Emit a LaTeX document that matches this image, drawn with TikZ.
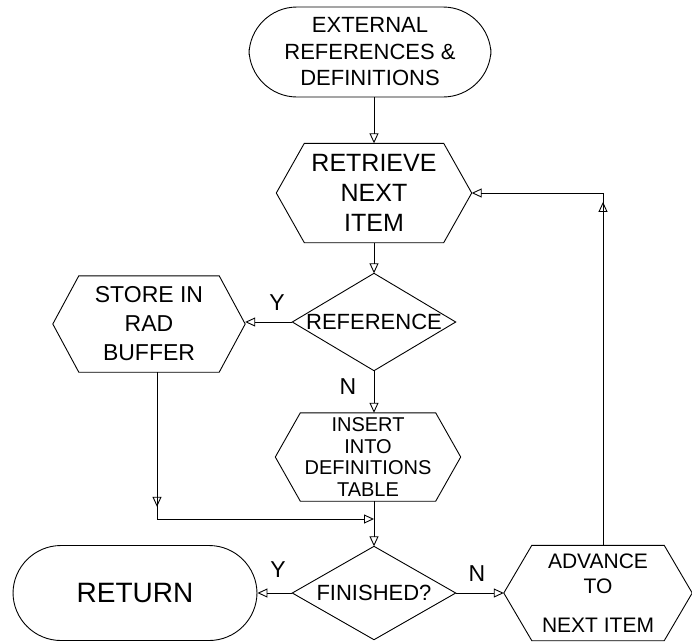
\documentclass[tikz,border=0pt]{standalone}
\usepackage{fontspec}
\setmainfont{Liberation Sans}
\usetikzlibrary{arrows.meta,calc,decorations.markings}

\tikzset{
  outline/.style={draw=black, line width=0.9pt},
  terminal/.style={outline, rounded corners=48pt, inner sep=0pt, align=center},
  shapebox/.style={rectangle, draw=none, inner sep=0pt, align=center},
  flow/.style={draw=black, line width=0.9pt, -{Triangle[open,length=10pt,width=9pt]}},
  midtip/.style={postaction={decorate}, decoration={markings,
      mark=at position #1 with {\arrow{Triangle[open,length=10pt,width=9pt]}}}},
  yn/.style={font=\fontsize{23}{23}\selectfont, inner sep=0pt},
}

% outline of a hexagon laid over a rectangular node (#2 = depth of the pointed ends)
\newcommand\hexoutline[2]{%
  \draw[outline] ($(#1.north west)+(#2,0)$) -- ($(#1.north east)+(-#2,0)$)
    -- (#1.east) -- ($(#1.south east)+(-#2,0)$) -- ($(#1.south west)+(#2,0)$)
    -- (#1.west) -- cycle;}
% outline of a decision diamond laid over a rectangular node
\newcommand\diaoutline[1]{%
  \draw[outline] (#1.north) -- (#1.east) -- (#1.south) -- (#1.west) -- cycle;}

\begin{document}
\begin{tikzpicture}[x=1pt,y=-1pt]
\useasboundingbox[fill=white] (0,0) rectangle (692,643);

% start terminal
\node[terminal, minimum width=242pt, minimum height=90pt,
      font=\fontsize{22}{26.5}\selectfont] (ext) at (370,52)
  {EXTERNAL\\REFERENCES \&\\DEFINITIONS};

% fetch step
\node[shapebox, minimum width=195pt, minimum height=99pt,
      font=\fontsize{25}{30}\selectfont] (ret) at (374,193)
  {RETRIEVE\\NEXT\\ITEM};
\hexoutline{ret}{28}

% reference test
\node[shapebox, minimum width=163pt, minimum height=97pt,
      font=\fontsize{22}{22}\selectfont] (refd) at (374,322) {REFERENCE};
\diaoutline{refd}

% buffer step
\node[shapebox, minimum width=192pt, minimum height=96pt,
      font=\fontsize{23}{29}\selectfont] (store) at (149,324)
  {STORE IN\\RAD\\BUFFER};
\hexoutline{store}{26}

% definitions step
\node[shapebox, minimum width=185pt, minimum height=88pt,
      font=\fontsize{20}{21.5}\selectfont] (ins) at (368,457)
  {INSERT\\INTO\\DEFINITIONS\\TABLE};
\hexoutline{ins}{25}

% finished test
\node[shapebox, minimum width=163pt, minimum height=93pt,
      font=\fontsize{22}{22}\selectfont] (fin) at (374,593) {FINISHED?};
\diaoutline{fin}

% end terminal
\node[terminal, minimum width=244pt, minimum height=95pt,
      font=\fontsize{28}{28}\selectfont] (back) at (135,593) {RETURN};

% advance step
\node[shapebox, minimum width=188pt, minimum height=95pt,
      font=\fontsize{21}{25}\selectfont] (adv) at (598,593)
  {ADVANCE\\TO\\[14pt]NEXT ITEM};
\hexoutline{adv}{28}

% connectors
\draw[flow] (ret.north |- ext.south) -- (ret.north);
\draw[flow] (ret.south) -- (refd.north);
\draw[flow] (refd.west) -- (refd.west -| store.east);
\draw[flow] (refd.south) -- (refd.south |- ins.north);
\coordinate (join) at (374,519);
\draw[flow] (fin.north |- ins.south) -- (fin.north);
\draw[flow, midtip=0.37] ([xshift=8pt]store.south) |- (join);
\draw[flow] (fin.west) -- (fin.west -| back.east);
\draw[flow] (fin.east) -- (adv.west);
\draw[flow, midtip=0.71] ([xshift=5pt]adv.north) |- (ret.east);

% branch labels
\node[yn] (y1) at (277,303) {Y};
\node[yn] (n1) at (348,387) {N};
\node[yn] (y2) at (278,570) {Y};
\node[yn] (n2) at (477,574) {N};
\end{tikzpicture}
\end{document}
